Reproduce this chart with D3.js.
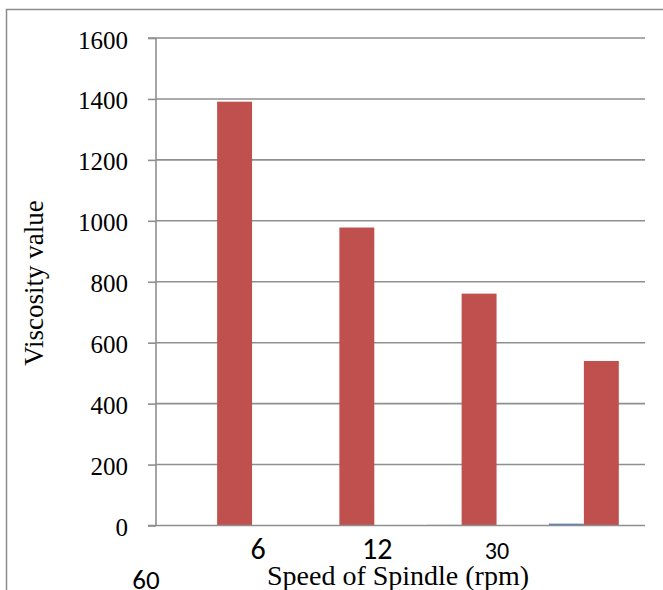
<!DOCTYPE html>
<html>
<head>
<meta charset="utf-8">
<script src="https://cdn.jsdelivr.net/npm/d3@7"></script>
<style>
html,body{margin:0;padding:0;background:#fff;}
svg{display:block;}
</style>
</head>
<body>
<svg id="chart" width="663" height="590"></svg>
<script>
const categories = ["6", "12", "30", "60"];
const seriesBlue = [0.8, 0.8, 2, 6];
const seriesRed = [1391, 978, 761, 540];
const yTicks = [0, 200, 400, 600, 800, 1000, 1200, 1400, 1600];

const svg = d3.select("#chart");
const m = {left: 156, right: 645, top: 38, bottom: 525.5};

// outer border
svg.append("path")
  .attr("d", "M6.5,590 L6.5,9.5 L663,9.5")
  .attr("fill", "none").attr("stroke", "#8c8c8c").attr("stroke-width", 1.5);

const x = d3.scaleBand().domain(categories).range([m.left, m.right]).paddingInner(0).paddingOuter(0);
const y = d3.scaleLinear().domain([0, 1600]).range([m.bottom, m.top]);

// gridlines
svg.append("g").selectAll("line").data(yTicks.filter(d => d > 0)).join("line")
  .attr("x1", m.left).attr("x2", m.right)
  .attr("y1", d => y(d)).attr("y2", d => y(d))
  .attr("stroke", "#8f8f8f").attr("stroke-width", 1.6);

// bars
const bw = x.bandwidth() / 3.5;
const gap = x.bandwidth() * 0.75 / 3.5;
svg.append("g").selectAll("rect").data(categories).join("rect")
  .attr("x", d => x(d) + gap)
  .attr("width", bw)
  .attr("y", (d, i) => y(seriesBlue[i]))
  .attr("height", (d, i) => y(0) - y(seriesBlue[i]))
  .attr("fill", "#4F81BD");
svg.append("g").selectAll("rect").data(categories).join("rect")
  .attr("x", d => x(d) + gap + bw)
  .attr("width", bw)
  .attr("y", (d, i) => y(seriesRed[i]))
  .attr("height", (d, i) => y(0) - y(seriesRed[i]))
  .attr("fill", "#C0504D");

// y axis
const yAxis = d3.axisLeft(y).tickValues(yTicks).tickSize(8).tickPadding(20).tickFormat(d3.format("d"));
const gy = svg.append("g").attr("transform", `translate(${m.left},0)`).call(yAxis);
gy.select(".domain").attr("stroke", "#8f8f8f").attr("stroke-width", 1.6).attr("d", `M-8,${m.top}H0V${m.bottom}`);
gy.selectAll(".tick line").attr("stroke", "#8f8f8f").attr("stroke-width", 1.6);
gy.selectAll(".tick text").attr("font-family", "Liberation Serif, serif").attr("font-size", 25).attr("fill", "#000").attr("dy", "0.4em");

// x axis line
svg.append("line").attr("x1", m.left - 8).attr("x2", m.right)
  .attr("y1", y(0)).attr("y2", y(0))
  .attr("stroke", "#8f8f8f").attr("stroke-width", 1.6);

// category labels (misaligned, as in reference)
const catPos = [
  {dx: 102, y: 559, size: 30},
  {dx: 99, y: 559, size: 30},
  {dx: 96.5, y: 559, size: 24},
];
categories.slice(0, 3).forEach((c, i) => {
  svg.append("text").attr("x", x(c) + catPos[i].dx).attr("y", catPos[i].y)
    .attr("text-anchor", "middle").attr("font-family", "Carlito, Lato, sans-serif")
    .attr("font-size", catPos[i].size).attr("fill", "#000").text(c);
});
svg.append("text").attr("x", 146).attr("y", 589)
  .attr("text-anchor", "middle").attr("font-family", "Carlito, Lato, sans-serif")
  .attr("font-size", 27).attr("fill", "#000").text(categories[3]);

// axis titles
svg.append("text").attr("x", 398).attr("y", 585)
  .attr("text-anchor", "middle").attr("font-family", "Liberation Serif, serif")
  .attr("font-size", 28).attr("fill", "#000").text("Speed of Spindle (rpm)");
svg.append("text").attr("transform", "translate(43,283) rotate(-90)")
  .attr("text-anchor", "middle").attr("font-family", "Liberation Serif, serif")
  .attr("font-size", 27).attr("fill", "#000").text("Viscosity value");
</script>
</body>
</html>
